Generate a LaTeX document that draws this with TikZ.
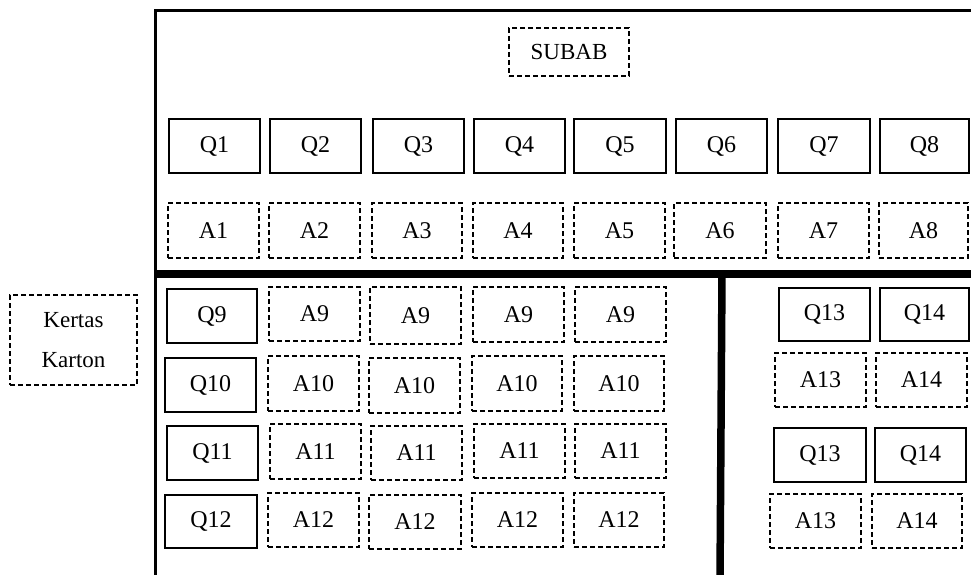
\documentclass[tikz,border=0pt]{standalone}
\usepackage{fontspec}
\setmainfont{Liberation Serif}
\begin{document}
\begin{tikzpicture}[x=1pt,y=-1pt,
  qbox/.style={draw,line width=2.2pt,inner sep=0pt,font=\fontsize{24}{28}\selectfont},
  abox/.style={draw,line width=2pt,dash pattern=on 5pt off 3pt,inner sep=0pt,font=\fontsize{24}{28}\selectfont},
  lbox/.style={draw,line width=2pt,dash pattern=on 5pt off 3pt,inner sep=0pt,font=\fontsize{23}{40}\selectfont,align=center},
  frame/.style={line width=3pt},
  divider/.style={line width=7.5pt}]
\useasboundingbox (0,0) rectangle (971,575);
\newcommand\bx[6]{\node[#1,minimum width=#4pt,minimum height=#5pt] (#2) at (#3) {#6};}
% frame and dividers
\coordinate (ftr) at (975,10.5);
\coordinate (ftl) at (155.5,10.5);
\coordinate (fbl) at (155.5,580);
\draw[frame] (ftr) -- (ftl) -- (fbl);
\coordinate (hl) at (154,274);
\coordinate (hr) at (975,274);
\draw[divider] (hl) -- (hr);
\coordinate (vt) at (722,274);
\coordinate (vb) at (720,580);
\draw[divider] (vt) -- (vb);
% title and side label
\bx{lbox}{subab}{569,52}{120}{48}{SUBAB}
\bx{lbox}{kertas}{73.5,340}{127}{90}{Kertas\\Karton}
% row 1
\bx{qbox}{q1}{214.5,146}{91}{54}{Q1}
\bx{qbox}{q2}{315.5,146}{91}{54}{Q2}
\bx{qbox}{q3}{418.5,146}{91}{54}{Q3}
\bx{qbox}{q4}{519.5,146}{91}{54}{Q4}
\bx{qbox}{q5}{620,146}{92}{54}{Q5}
\bx{qbox}{q6}{721.5,146}{91}{54}{Q6}
\bx{qbox}{q7}{824,146}{92}{54}{Q7}
\bx{qbox}{q8}{924.5,146}{89}{54}{Q8}
\bx{abox}{a1}{213.5,230.5}{91}{55}{A1}
\bx{abox}{a2}{314.5,230.5}{91}{55}{A2}
\bx{abox}{a3}{417,230.5}{90}{55}{A3}
\bx{abox}{a4}{518,230.5}{90}{55}{A4}
\bx{abox}{a5}{619.5,230.5}{91}{55}{A5}
\bx{abox}{a6}{720,230.5}{92}{55}{A6}
\bx{abox}{a7}{823.5,230.5}{91}{55}{A7}
\bx{abox}{a8}{923.5,230.5}{89}{55}{A8}
% lower left
\bx{qbox}{q9}{212,316}{90}{54}{Q9}
\bx{abox}{a9a}{314.5,314}{91}{54}{A9}
\bx{abox}{a9b}{415.5,315.5}{91}{57}{A9}
\bx{abox}{a9c}{518.5,314.5}{91}{55}{A9}
\bx{abox}{a9d}{620.5,314.5}{91}{55}{A9}
\bx{qbox}{q10}{210.5,385}{91}{54}{Q10}
\bx{abox}{a10a}{313.5,383.5}{91}{55}{A10}
\bx{abox}{a10b}{414.5,385.5}{91}{55}{A10}
\bx{abox}{a10c}{517,383.5}{90}{55}{A10}
\bx{abox}{a10d}{619,383.5}{90}{55}{A10}
\bx{qbox}{q11}{212.5,453}{91}{54}{Q11}
\bx{abox}{a11a}{315.5,451.5}{91}{55}{A11}
\bx{abox}{a11b}{416.5,453}{91}{54}{A11}
\bx{abox}{a11c}{519.5,451}{91}{54}{A11}
\bx{abox}{a11d}{620.5,451}{91}{54}{A11}
\bx{qbox}{q12}{211,521.5}{92}{53}{Q12}
\bx{abox}{a12a}{313.5,520}{91}{54}{A12}
\bx{abox}{a12b}{415,522}{92}{54}{A12}
\bx{abox}{a12c}{517.5,520}{91}{54}{A12}
\bx{abox}{a12d}{619,520}{90}{54}{A12}
% right section
\bx{qbox}{q13a}{824.5,314.5}{91}{53}{Q13}
\bx{qbox}{q14a}{924.5,314.5}{89}{53}{Q14}
\bx{abox}{a13a}{820.5,380}{91}{54}{A13}
\bx{abox}{a14a}{921.5,380}{91}{54}{A14}
\bx{qbox}{q13b}{820,455}{92}{54}{Q13}
\bx{qbox}{q14b}{920.5,455}{91}{54}{Q14}
\bx{abox}{a13b}{815.5,521}{91}{54}{A13}
\bx{abox}{a14b}{917,521}{90}{54}{A14}
\end{tikzpicture}
\end{document}
